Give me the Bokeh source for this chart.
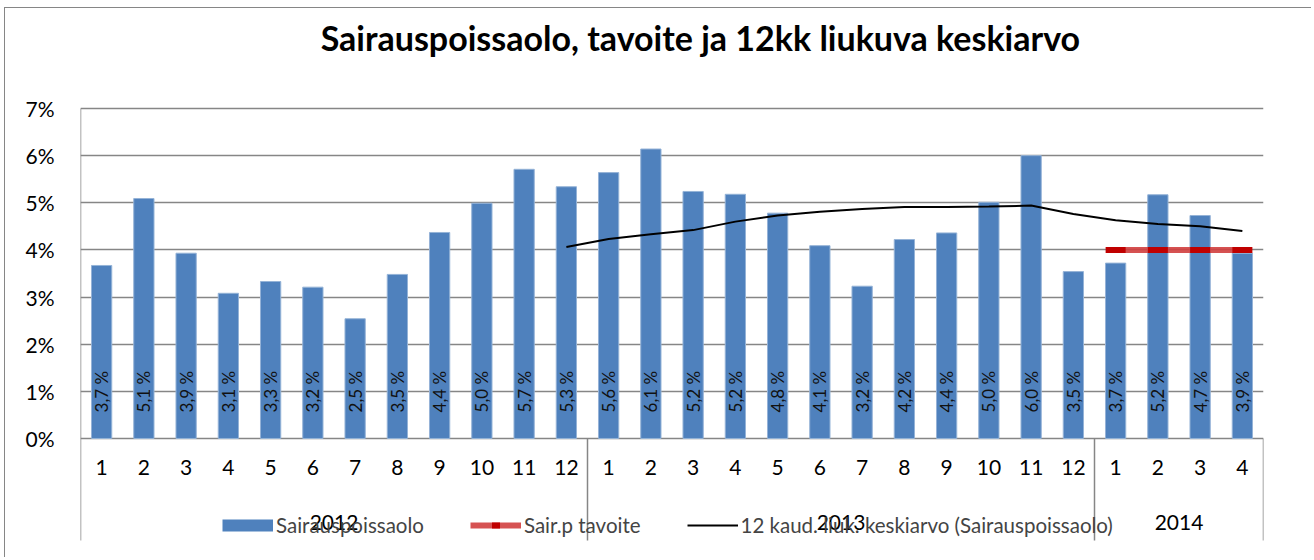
import numpy as np
from bokeh.plotting import figure
from bokeh.models import (Range1d, FixedTicker, Legend, LegendItem)
from bokeh.core.properties import value
from bokeh.embed import file_html
from bokeh.resources import INLINE

# ---------------- data ----------------
title = "Sairauspoissaolo, tavoite ja 12kk liukuva keskiarvo"
years = ["2012", "2013", "2014"]
months_per_year = [12, 12, 4]
month_labels = ["1", "2", "3", "4", "5", "6", "7", "8", "9", "10", "11", "12",
                "1", "2", "3", "4", "5", "6", "7", "8", "9", "10", "11", "12",
                "1", "2", "3", "4"]
absence = [3.67, 5.09, 3.93, 3.08, 3.33, 3.21, 2.54, 3.48, 4.37, 4.99, 5.71, 5.34,
           5.64, 6.14, 5.24, 5.18, 4.78, 4.09, 3.23, 4.22, 4.36, 5.01, 6.00, 3.54,
           3.72, 5.17, 4.73, 3.93]
rolling_avg = [None] * 11 + [4.06, 4.23, 4.33, 4.42, 4.60, 4.73, 4.81, 4.87, 4.91,
                             4.91, 4.92, 4.94, 4.76, 4.63, 4.55, 4.50, 4.40]
target = [None] * 24 + [4.0, 4.0, 4.0, 4.0]
y_ticks = [0, 1, 2, 3, 4, 5, 6, 7]
series_names = ["Sairauspoissaolo", "Sair.p tavoite",
                "12 kaud. liuk. keskiarvo (Sairauspoissaolo)"]

# ---------------- derived ----------------
n = len(absence)
x = np.arange(n) + 0.5
bar_labels = [f"{v:.1f}".replace(".", ",") + " %" for v in absence]
roll = np.array([np.nan if v is None else v for v in rolling_avg])
targ = np.array([np.nan if v is None else v for v in target])
bounds = np.cumsum(months_per_year)
year_centers = bounds - np.array(months_per_year) / 2.0

FONT = "Lato"
GRID = "#868686"
Y_MIN = -2.164   # bottom of the category-label band
Y_TOP = 9.121    # top of the chart area (room for the title)
Y_MAX = max(y_ticks)

p = figure(width=1307, height=550, x_range=Range1d(0, n), y_range=Range1d(Y_MIN, Y_TOP),
           output_backend="svg", toolbar_location=None, x_axis_location=None,
           min_border_left=75, min_border_right=49, min_border_top=0, min_border_bottom=18)
p.styles = {"border-top": "1px solid #868686", "border-left": "1px solid #868686",
            "margin-left": "4px", "margin-top": "7px"}
p.outline_line_color = None
p.background_fill_color = "white"

# y axis
p.yaxis.ticker = FixedTicker(ticks=y_ticks)
p.yaxis.major_label_overrides = {t: f"{t}%" for t in y_ticks}
p.yaxis.axis_line_color = None
p.yaxis.major_tick_line_color = None
p.yaxis.minor_tick_line_color = None
p.yaxis.major_tick_out = 0
p.yaxis.major_label_standoff = 26
p.yaxis.major_label_text_font = FONT
p.yaxis.major_label_text_font_size = "21px"
p.yaxis.major_label_text_color = "#000000"
p.ygrid.grid_line_color = GRID
p.ygrid.grid_line_width = 1.5
p.xgrid.grid_line_color = None

# left edge of plot area (continues down as first group separator)
p.segment(x0=[0], y0=[Y_MAX], x1=[0], y1=[Y_MIN - 1], line_color=GRID, line_width=1.5)

# group separators below axis
p.segment(x0=bounds, y0=[0] * len(bounds), x1=bounds, y1=[Y_MIN - 1] * len(bounds),
          line_color=GRID, line_width=1.5)

# bars
p.vbar(x=x, top=absence, width=0.48, fill_color="#4F81BD", line_color="#95B3D7", line_width=1)

# bar value labels
p.text(x=x, y=[0] * n, text=bar_labels, angle=np.pi / 2, text_align="left",
       text_baseline="middle", y_offset=-26, text_font=value(FONT),
       text_font_size="17px", text_color="#111111")

# month labels and year labels
p.text(x=x, y=[0] * n, text=month_labels, text_align="center", text_baseline="middle",
       y_offset=29, text_font=value(FONT), text_font_size="21px", text_color="#000000")
p.text(x=year_centers, y=[0] * len(years), text=years, text_align="center",
       text_baseline="middle", y_offset=84, text_font=value(FONT),
       text_font_size="21px", text_color="#000000")

# lines
red_line = p.line(x=x, y=targ, line_color="#D23F3F", line_width=6, line_alpha=0.9)
red_mark = p.scatter(x=x, y=targ, marker="dash", size=20, line_color="#C00000", line_width=6)
black_line = p.line(x=x, y=roll, line_color="#000000", line_width=2)

# legend swatch for bars (no visible data)
bar_swatch = p.line(x=[np.nan, np.nan], y=[np.nan, np.nan], line_color="#4F81BD",
                    line_width=12, line_cap="butt")

legend = Legend(items=[LegendItem(label=series_names[0], renderers=[bar_swatch]),
                       LegendItem(label=series_names[1], renderers=[red_line, red_mark]),
                       LegendItem(label=series_names[2], renderers=[black_line])],
                orientation="horizontal", location=(142, 3), padding=0, margin=0,
                spacing=46, glyph_width=51, glyph_height=20, label_height=20,
                label_standoff=3, label_text_font=FONT, label_text_font_size="20.5px",
                label_text_baseline="middle", background_fill_alpha=0,
                border_line_color=None)
p.add_layout(legend)

# title (drawn inside the extended chart area)
p.text(x=[n * 0.524], y=[8.51], text=[title], text_align="center", text_baseline="middle",
       text_font=value(FONT), text_font_size="34px", text_font_style="bold",
       text_color="#000000")

open("out.html", "w").write(file_html(p, INLINE))
